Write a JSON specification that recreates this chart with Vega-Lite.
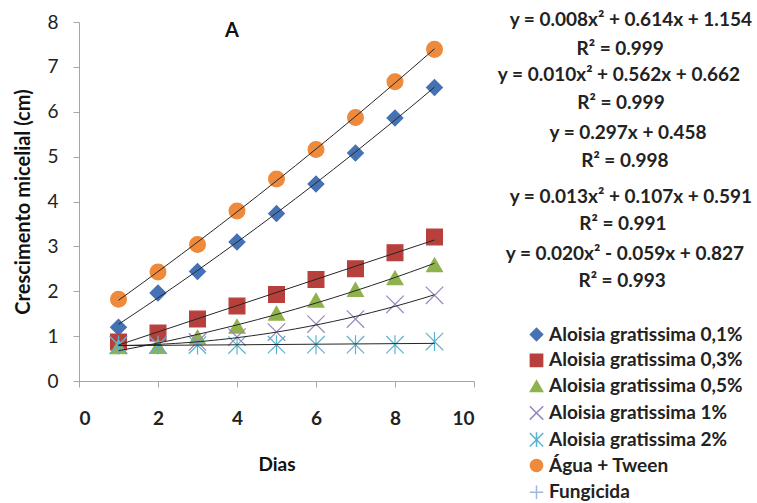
{
  "$schema": "https://vega.github.io/schema/vega-lite/v6.json",
  "width": 395,
  "height": 359,
  "autosize": {"type": "none"},
  "padding": {"left": 79, "top": 22, "right": 283, "bottom": 122},
  "background": "white",
  "config": {
    "view": {"stroke": null},
    "font": "Lato",
    "legend": {
      "orient": "none",
      "legendX": 448,
      "legendY": 303,
      "labelFont": "Lato",
      "labelFontSize": 19,
      "labelFontWeight": "bold",
      "labelColor": "#222222",
      "symbolSize": 150,
      "symbolStrokeWidth": 1.5,
      "rowPadding": 5.8,
      "labelOffset": 3,
      "padding": 0,
      "labelLimit": 300
    }
  },
  "datasets": {
    "points": [
      {"series": "Aloisia gratissima 0,1%", "x": 1, "y": 1.2},
      {"series": "Aloisia gratissima 0,1%", "x": 2, "y": 1.96},
      {"series": "Aloisia gratissima 0,1%", "x": 3, "y": 2.44},
      {"series": "Aloisia gratissima 0,1%", "x": 4, "y": 3.1},
      {"series": "Aloisia gratissima 0,1%", "x": 5, "y": 3.73},
      {"series": "Aloisia gratissima 0,1%", "x": 6, "y": 4.39},
      {"series": "Aloisia gratissima 0,1%", "x": 7, "y": 5.08},
      {"series": "Aloisia gratissima 0,1%", "x": 8, "y": 5.86},
      {"series": "Aloisia gratissima 0,1%", "x": 9, "y": 6.54},
      {"series": "Aloisia gratissima 0,3%", "x": 1, "y": 0.87},
      {"series": "Aloisia gratissima 0,3%", "x": 2, "y": 1.07},
      {"series": "Aloisia gratissima 0,3%", "x": 3, "y": 1.38},
      {"series": "Aloisia gratissima 0,3%", "x": 4, "y": 1.67},
      {"series": "Aloisia gratissima 0,3%", "x": 5, "y": 1.93},
      {"series": "Aloisia gratissima 0,3%", "x": 6, "y": 2.26},
      {"series": "Aloisia gratissima 0,3%", "x": 7, "y": 2.5},
      {"series": "Aloisia gratissima 0,3%", "x": 8, "y": 2.86},
      {"series": "Aloisia gratissima 0,3%", "x": 9, "y": 3.21},
      {"series": "Aloisia gratissima 0,5%", "x": 1, "y": 0.76},
      {"series": "Aloisia gratissima 0,5%", "x": 2, "y": 0.77},
      {"series": "Aloisia gratissima 0,5%", "x": 3, "y": 0.98},
      {"series": "Aloisia gratissima 0,5%", "x": 4, "y": 1.22},
      {"series": "Aloisia gratissima 0,5%", "x": 5, "y": 1.51},
      {"series": "Aloisia gratissima 0,5%", "x": 6, "y": 1.8},
      {"series": "Aloisia gratissima 0,5%", "x": 7, "y": 2.04},
      {"series": "Aloisia gratissima 0,5%", "x": 8, "y": 2.3},
      {"series": "Aloisia gratissima 0,5%", "x": 9, "y": 2.59},
      {"series": "Aloisia gratissima 1%", "x": 1, "y": 0.8},
      {"series": "Aloisia gratissima 1%", "x": 2, "y": 0.8},
      {"series": "Aloisia gratissima 1%", "x": 3, "y": 0.87},
      {"series": "Aloisia gratissima 1%", "x": 4, "y": 0.98},
      {"series": "Aloisia gratissima 1%", "x": 5, "y": 1.09},
      {"series": "Aloisia gratissima 1%", "x": 6, "y": 1.27},
      {"series": "Aloisia gratissima 1%", "x": 7, "y": 1.38},
      {"series": "Aloisia gratissima 1%", "x": 8, "y": 1.71},
      {"series": "Aloisia gratissima 1%", "x": 9, "y": 1.91},
      {"series": "Aloisia gratissima 2%", "x": 1, "y": 0.8},
      {"series": "Aloisia gratissima 2%", "x": 2, "y": 0.8},
      {"series": "Aloisia gratissima 2%", "x": 3, "y": 0.8},
      {"series": "Aloisia gratissima 2%", "x": 4, "y": 0.8},
      {"series": "Aloisia gratissima 2%", "x": 5, "y": 0.81},
      {"series": "Aloisia gratissima 2%", "x": 6, "y": 0.81},
      {"series": "Aloisia gratissima 2%", "x": 7, "y": 0.81},
      {"series": "Aloisia gratissima 2%", "x": 8, "y": 0.81},
      {"series": "Aloisia gratissima 2%", "x": 9, "y": 0.88},
      {"series": "Água + Tween", "x": 1, "y": 1.82},
      {"series": "Água + Tween", "x": 2, "y": 2.43},
      {"series": "Água + Tween", "x": 3, "y": 3.04},
      {"series": "Água + Tween", "x": 4, "y": 3.79},
      {"series": "Água + Tween", "x": 5, "y": 4.5},
      {"series": "Água + Tween", "x": 6, "y": 5.16},
      {"series": "Água + Tween", "x": 7, "y": 5.87},
      {"series": "Água + Tween", "x": 8, "y": 6.67},
      {"series": "Água + Tween", "x": 9, "y": 7.39}
    ],
    "eqs": [
      {"label": "y = 0.008x² + 0.614x + 1.154", "x": 13.97, "y": 8.04},
      {"label": "R² = 0.999", "x": 13.7, "y": 7.4},
      {"label": "y = 0.010x² + 0.562x + 0.662", "x": 13.67, "y": 6.82},
      {"label": "R² = 0.999", "x": 13.72, "y": 6.2},
      {"label": "y = 0.297x + 0.458", "x": 13.9, "y": 5.53},
      {"label": "R² = 0.998", "x": 13.82, "y": 4.91},
      {"label": "y = 0.013x² + 0.107x + 0.591", "x": 13.97, "y": 4.11},
      {"label": "R² = 0.991", "x": 13.77, "y": 3.49},
      {"label": "y = 0.020x² - 0.059x + 0.827", "x": 13.82, "y": 2.82},
      {"label": "R² = 0.993", "x": 13.75, "y": 2.22}
    ],
    "panel": [
      {"label": "A", "x": 3.87, "y": 7.8}
    ]
  },
  "layer": [
    {
      "data": {"name": "points"},
      "mark": {"type": "point", "filled": true, "size": 250, "strokeWidth": 1.2, "opacity": 1},
      "encoding": {
        "x": {
          "field": "x", "type": "quantitative",
          "scale": {"domain": [0, 10], "nice": false},
          "axis": {
            "title": "Dias", "values": [0, 2, 4, 6, 8, 10], "grid": false,
            "domainColor": "#a6a6a6", "tickColor": "#a6a6a6", "tickSize": 6,
            "labelFont": "Lato", "labelFontSize": 19, "labelFontWeight": "bold", "labelColor": "#222222",
            "labelPadding": 22, "titleFont": "Lato", "titleFontSize": 19, "titleFontWeight": "bold",
            "titleColor": "#111111", "titlePadding": 27
          }
        },
        "y": {
          "field": "y", "type": "quantitative",
          "scale": {"domain": [0, 8], "nice": false},
          "axis": {
            "title": "Crescimento micelial (cm)", "values": [0, 1, 2, 3, 4, 5, 6, 7, 8], "grid": false,
            "domainColor": "#a6a6a6", "tickColor": "#a6a6a6", "tickSize": 6,
            "labelFont": "Lato", "labelFontSize": 19, "labelFontWeight": "normal", "labelColor": "#222222",
            "labelPadding": 15, "titleFont": "Lato", "titleFontSize": 20, "titleFontWeight": "bold",
            "titleColor": "#111111", "titlePadding": 13
          }
        },
        "shape": {
          "field": "series", "type": "nominal", "title": null,
          "scale": {
            "domain": ["Aloisia gratissima 0,1%", "Aloisia gratissima 0,3%", "Aloisia gratissima 0,5%", "Aloisia gratissima 1%", "Aloisia gratissima 2%", "Água + Tween", "Fungicida"],
            "range": ["diamond", "square", "triangle-up", "M-1.1,-1.1L1.1,1.1M-1.1,1.1L1.1,-1.1", "M-1.1,-1.1L1.1,1.1M-1.1,1.1L1.1,-1.1M0,-1.2L0,1.2", "circle", "M-1.1,0L1.1,0M0,-1.1L0,1.1"]
          }
        },
        "fill": {
          "field": "series", "type": "nominal", "title": null,
          "scale": {
            "domain": ["Aloisia gratissima 0,1%", "Aloisia gratissima 0,3%", "Aloisia gratissima 0,5%", "Aloisia gratissima 1%", "Aloisia gratissima 2%", "Água + Tween", "Fungicida"],
            "range": ["#4572b4", "#b8403c", "#8fb24c", "#9a86bd", "#5ab3cc", "#ee8a3c", "#9fb8de"]
          }
        },
        "stroke": {
          "field": "series", "type": "nominal", "title": null,
          "scale": {
            "domain": ["Aloisia gratissima 0,1%", "Aloisia gratissima 0,3%", "Aloisia gratissima 0,5%", "Aloisia gratissima 1%", "Aloisia gratissima 2%", "Água + Tween", "Fungicida"],
            "range": ["#4572b4", "#b8403c", "#8fb24c", "#9a86bd", "#5ab3cc", "#ee8a3c", "#9fb8de"]
          }
        }
      }
    },
    {
      "data": {"name": "points"},
      "transform": [
        {"filter": {"field": "series", "oneOf": ["Aloisia gratissima 0,1%", "Aloisia gratissima 0,5%", "Aloisia gratissima 1%", "Água + Tween"]}},
        {"regression": "y", "on": "x", "groupby": ["series"], "method": "poly", "order": 2}
      ],
      "mark": {"type": "line", "color": "#262626", "strokeWidth": 1},
      "encoding": {
        "x": {"field": "x", "type": "quantitative"},
        "y": {"field": "y", "type": "quantitative"},
        "detail": {"field": "series", "type": "nominal"}
      }
    },
    {
      "data": {"name": "points"},
      "transform": [
        {"filter": {"field": "series", "oneOf": ["Aloisia gratissima 0,3%", "Aloisia gratissima 2%"]}},
        {"regression": "y", "on": "x", "groupby": ["series"], "method": "linear"}
      ],
      "mark": {"type": "line", "color": "#262626", "strokeWidth": 1},
      "encoding": {
        "x": {"field": "x", "type": "quantitative"},
        "y": {"field": "y", "type": "quantitative"},
        "detail": {"field": "series", "type": "nominal"}
      }
    },
    {
      "data": {"name": "eqs"},
      "mark": {"type": "text", "align": "center", "baseline": "middle", "font": "Lato", "fontSize": 19, "fontWeight": "bold", "color": "#222222"},
      "encoding": {
        "x": {"field": "x", "type": "quantitative"},
        "y": {"field": "y", "type": "quantitative"},
        "text": {"field": "label", "type": "nominal"}
      }
    },
    {
      "data": {"name": "panel"},
      "mark": {"type": "text", "align": "center", "baseline": "middle", "font": "Lato", "fontSize": 20, "fontWeight": "bold", "color": "#111111"},
      "encoding": {
        "x": {"field": "x", "type": "quantitative"},
        "y": {"field": "y", "type": "quantitative"},
        "text": {"field": "label", "type": "nominal"}
      }
    }
  ]
}
